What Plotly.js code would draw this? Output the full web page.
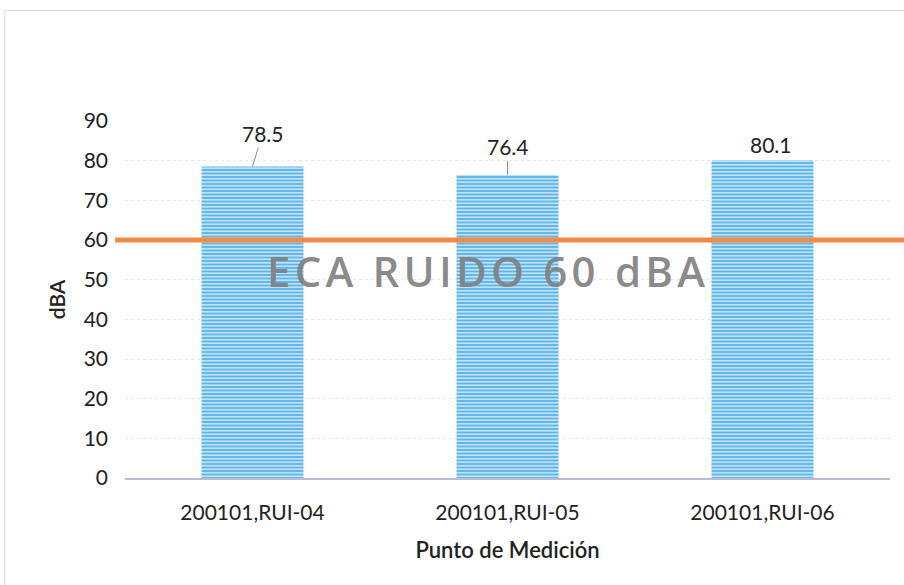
<!DOCTYPE html>
<html><head><meta charset="utf-8">
<script src="https://cdn.plot.ly/plotly-3.0.1.min.js"></script>
<style>html,body{margin:0;padding:0;background:#fff;}#chart{width:904px;height:585px;}</style>
</head><body><div id="chart"></div>
<script>
const categories = ["200101,RUI-04", "200101,RUI-05", "200101,RUI-06"];
const values = [78.5, 76.4, 80.1];
const limitValue = 60;
const limitLabel = "ECA RUIDO 60 dBA";
const yTicks = [0, 10, 20, 30, 40, 50, 60, 70, 80, 90];

const font = "Lato, 'Open Sans', sans-serif";
const labelOffsets = [[10, -33, true], [0, -28, true], [8, -16, false]];

const annotations = values.map((v, i) => {
  const [ax, ay, arrow] = labelOffsets[i];
  const a = {x: categories[i], y: v, xref: 'x', yref: 'y', text: String(v),
    font: {family: font, size: 21, color: '#222'}, showarrow: arrow};
  if (arrow) { Object.assign(a, {ax: ax, ay: ay, arrowhead: 0, arrowwidth: 1, arrowcolor: '#8a8a8a', standoff: 0}); }
  else { Object.assign(a, {xshift: ax, yshift: -ay, yanchor: 'middle'}); }
  return a;
});
const spaced = limitLabel.split('').join('\u200A');
annotations.push({x: 1, y: 52.3, xref: 'x', yref: 'y', text: spaced, showarrow: false,
  xshift: -22, font: {family: "Open Sans, sans-serif", size: 42, weight: 600, color: 'rgba(128,128,128,0.92)'}});

const data = [{
  type: 'bar', x: categories, y: values,
  marker: {color: '#5CB6EA', line: {width: 0},
    pattern: {shape: '-', fgcolor: '#ffffff', bgcolor: '#5CB6EA', size: 3.5, solidity: 0.3, fillmode: 'replace'}},
  hoverinfo: 'none'
}];

const layout = {
  width: 904, height: 585,
  margin: {l: 125, r: 14, t: 121, b: 107},
  paper_bgcolor: '#fff', plot_bgcolor: '#fff',
  showlegend: false, bargap: 0.6,
  font: {family: font, color: '#333'},
  xaxis: {type: 'category', tickfont: {family: font, size: 21, color: '#222'},
    showgrid: false, showline: true, linecolor: '#b8bdd0', linewidth: 2, ticks: '', ticklen: 0,
    ticklabelstandoff: 15,
    title: {text: 'Punto de Medición', font: {family: font, size: 22, color: '#222', weight: 600}, standoff: 19}},
  yaxis: {range: [0, 90], tickvals: yTicks, tickfont: {family: font, size: 21, color: '#222'},
    showgrid: true, gridcolor: '#e6e6e6', gridwidth: 1, griddash: 'dot', zeroline: false, showline: false,
    ticks: '', ticklabelstandoff: 16,
    title: {text: 'dBA', font: {family: font, size: 21, color: '#222', weight: 600}, standoff: 12}},
  shapes: [
    {type: 'line', xref: 'paper', yref: 'y', x0: -0.013, x1: 1.02, y0: limitValue, y1: limitValue,
      line: {color: '#F08A45', width: 5}, layer: 'above'},
    {type: 'line', xref: 'paper', yref: 'paper', x0: -0.157, x1: 1.02, y0: 1.31, y1: 1.31,
      line: {color: '#d6d6d6', width: 1}},
    {type: 'line', xref: 'paper', yref: 'paper', x0: -0.157, x1: -0.157, y0: -0.31, y1: 1.31,
      line: {color: '#d6d6d6', width: 1}}
  ],
  annotations: annotations
};

Plotly.newPlot('chart', data, layout, {displayModeBar: false, staticPlot: true});
</script></body></html>
